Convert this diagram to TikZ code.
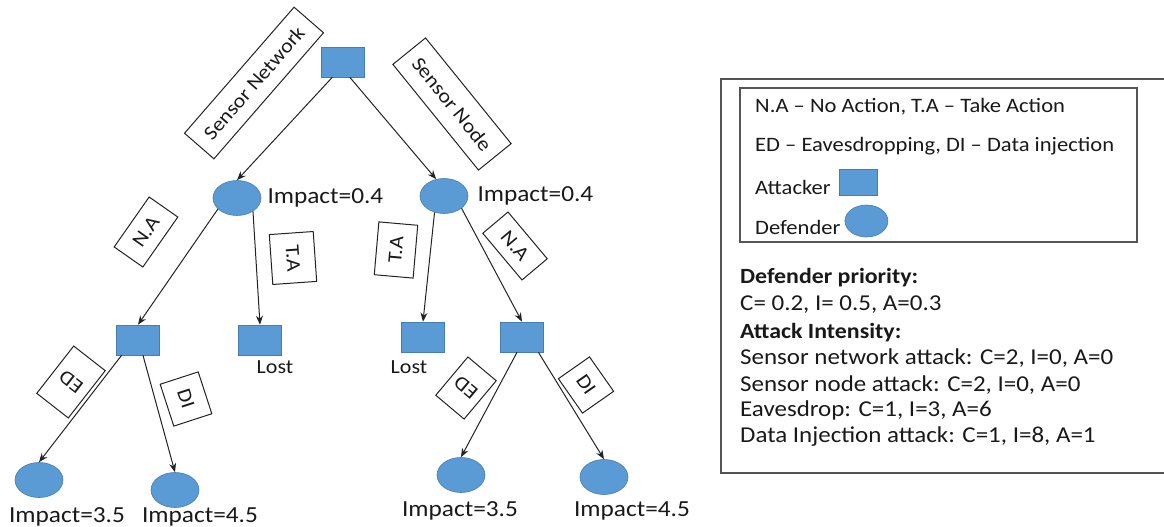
\documentclass[tikz,border=0pt]{standalone}
\usepackage{fontspec}
\setmainfont{Carlito}[FakeStretch=1.1]
\usetikzlibrary{arrows.meta, positioning, shapes.geometric}
\definecolor{gtblue}{RGB}{91,155,213}
\definecolor{gtedge}{RGB}{70,125,175}
\definecolor{gtline}{RGB}{35,35,35}
\definecolor{gttext}{RGB}{25,25,25}
\definecolor{gtframe}{RGB}{85,85,85}

\begin{document}
\begin{tikzpicture}[x=1pt, y=-1pt,
  every node/.style={text=gttext},
  attacker/.style={rectangle, fill=gtblue, draw=gtedge, line width=0.6pt,
              minimum width=43pt, minimum height=30pt, inner sep=0pt},
  defender/.style={ellipse, fill=gtblue, draw=gtedge, line width=0.6pt,
              minimum width=48pt, minimum height=35pt, inner sep=0pt},
  lbl/.style={draw=gtline, line width=1pt, inner sep=0pt, align=center,
              font=\fontsize{20}{24}\selectfont},
  impact/.style={inner sep=0pt, font=\fontsize{23}{27}\selectfont},
  keytext/.style={anchor=west, inner sep=0pt, font=\fontsize{20.5}{24}\selectfont},
  infotext/.style={anchor=west, inner sep=0pt, font=\fontsize{22.7}{26}\selectfont},
  infohead/.style={anchor=west, inner sep=0pt, font=\fontsize{21.7}{26}\selectfont\bfseries},
  link/.style={-{Stealth[length=9pt, width=7pt]}, line width=1pt, gtline}]
  \useasboundingbox (0,0) rectangle (1164,527);

  % Game tree: attacker squares, defender ellipses
  \node[attacker] (root) at (343,62) {};
  \node[defender] (defL) at (237,198) {};
  \node[defender] (defR) at (444,196) {};
  \node[attacker] (attL) at (138,340) {};
  \node[attacker] (lostL) at (260,340) {};
  \node[attacker] (lostR) at (423,337) {};
  \node[attacker] (attR) at (522,337) {};
  \node[defender] (leafLL) at (39,480) {};
  \node[defender] (leafLR) at (175,490) {};
  \node[defender] (leafRL) at (461,475) {};
  \node[defender] (leafRR) at (604,477) {};

  % Impact values and outcomes
  \node[impact, right=6pt of defL] (impDL) {Impact=0.4};
  \node[impact, right=9pt of defR] (impDR) {Impact=0.4};
  \node[impact, font=\fontsize{20}{24}\selectfont] (lostLtxt) at (275,367) {Lost};
  \node[impact, font=\fontsize{20}{24}\selectfont] (lostRtxt) at (409,367) {Lost};
  \node[impact] (impLL) at (67,517) {Impact=3.5};
  \node[impact] (impLR) at (200,517) {Impact=4.5};
  \node[impact] (impRL) at (460,511) {Impact=3.5};
  \node[impact] (impRR) at (632,511) {Impact=4.5};

  % Moves
  \draw[link] (root.235) -- (defL.north);
  \draw[link] (root.294) -- (defR.115);
  \draw[link] (defL.210) -- (attL.north);
  \draw[link] (defL.320) -- (lostL.north);
  \draw[link] (defR.240) -- (lostR.north);
  \draw[link] (defR.325) -- (attR.north);
  \draw[link] (attL.223) -- (leafLL.north);
  \draw[link] (attL.288) -- (leafLR.north);
  \draw[link] (attR.252) -- (leafRL.north);
  \draw[link] (attR.317) -- (leafRR.north);

  % Move labels
  \node[lbl, rotate=49, minimum width=167pt, minimum height=39pt] (tSN) at (254,83) {Sensor Network};
  \node[lbl, rotate=-51, minimum width=136pt, minimum height=42pt] (tSNd) at (452,104) {Sensor Node};
  \node[lbl, rotate=55, minimum width=61pt, minimum height=35pt] (tNAL) at (146,232) {N.A};
  \node[lbl, rotate=-86, minimum width=50pt, minimum height=44pt] (tTAL) at (293,258) {T.A};
  \node[lbl, rotate=85, minimum width=53pt, minimum height=39pt] (tTAR) at (396,250) {T.A};
  \node[lbl, rotate=-50, minimum width=61pt, minimum height=33pt] (tNAR) at (515,246) {N.A};
  \node[lbl, rotate=142, minimum width=40pt, minimum height=60pt] (tEDL) at (71,382) {ED};
  \node[lbl, rotate=-72, minimum width=44pt, minimum height=40pt] (tDIL) at (186,399) {DI};
  \node[lbl, rotate=140, minimum width=37pt, minimum height=50pt] (tEDR) at (466,388) {ED};
  \node[lbl, rotate=-55, minimum width=42pt, minimum height=38pt] (tDIR) at (586,385) {DI};

  % Key
  \draw[line width=1.3pt, gtframe] (1164,79) -- (721,79) -- (721,473) -- (1164,473);
  \node[draw=gtframe, line width=1.3pt, minimum width=397pt, minimum height=154pt] (key) at (938.5,165) {};
  \node[keytext] (k1) at (755,107) {N.A – No Action, T.A – Take Action};
  \node[keytext] (k2) at (755,146) {ED – Eavesdropping, DI – Data injection};
  \node[keytext] (k3) at (755,187) {Attacker};
  \node[attacker, minimum width=38pt, minimum height=26pt, right=8pt of k3, yshift=5pt] (kAtt) {};
  \node[keytext] (k4) at (755,227) {Defender};
  \node[defender, minimum width=43pt, minimum height=32pt, right=4pt of k4, yshift=6pt] (kDef) {};

  % Priorities and intensities
  \node[infohead] (p1) at (740,278) {Defender priority:};
  \node[infotext] (p2) at (740,305) {C= 0.2, I= 0.5, A=0.3};
  \node[infohead] (p3) at (740,333) {Attack Intensity:};
  \node[infotext] (p4) at (740,358) {Sensor network attack: C=2, I=0, A=0};
  \node[infotext] (p5) at (740,385) {Sensor node attack: C=2, I=0, A=0};
  \node[infotext] (p6) at (740,410) {Eavesdrop: C=1, I=3, A=6};
  \node[infotext] (p7) at (740,437) {Data Injection attack: C=1, I=8, A=1};
\end{tikzpicture}
\end{document}
